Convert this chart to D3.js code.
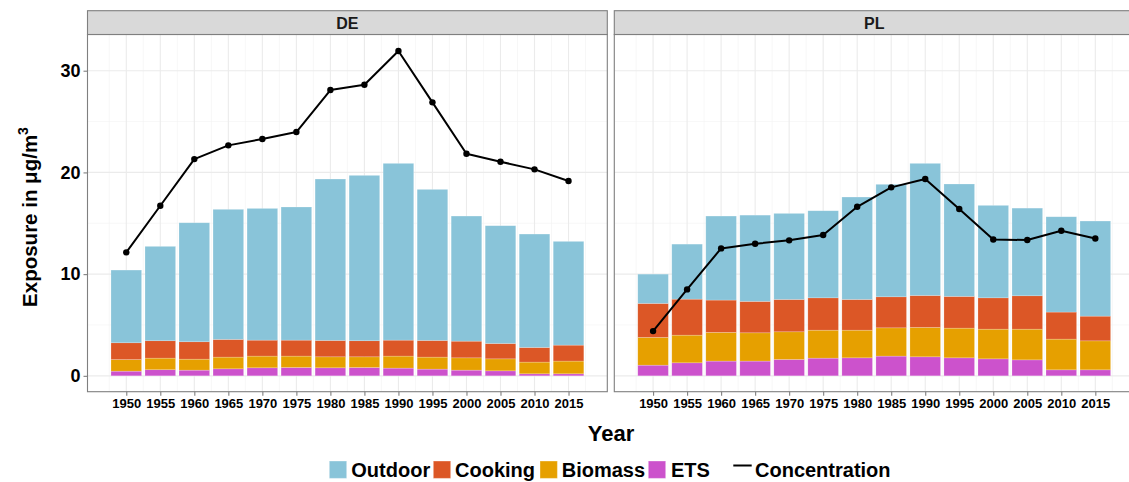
<!DOCTYPE html>
<html><head><meta charset="utf-8">
<script src="https://cdn.jsdelivr.net/npm/d3@7"></script>
<style>
body{margin:0;background:#fff;}
svg{display:block;font-family:"Liberation Sans",Arial,sans-serif;}
</style></head>
<body><svg id="c" width="1129" height="482"></svg>
<script>
const years = [1950,1955,1960,1965,1970,1975,1980,1985,1990,1995,2000,2005,2010,2015];
const facets = ["DE","PL"];
const seriesNames = ["Outdoor","Cooking","Biomass","ETS"];
const seriesColors = ["#89C4D9","#DC5726","#E6A000","#CC52CC"];
const yTicks = [0,10,20,30];

const outdoorDE = [7.15,9.28,11.70,12.79,12.95,13.09,15.87,16.26,17.38,14.85,12.30,11.58,11.15,10.20];
const cookingDE = [1.65,1.71,1.71,1.74,1.57,1.57,1.61,1.58,1.57,1.64,1.64,1.51,1.44,1.57];
const biomassDE = [1.14,1.14,1.08,1.15,1.15,1.12,1.08,1.05,1.18,1.18,1.21,1.18,1.15,1.25];
const etsDE     = [0.46,0.60,0.56,0.69,0.79,0.82,0.79,0.82,0.76,0.66,0.56,0.49,0.20,0.20];
const concDE    = [12.14,16.72,21.31,22.66,23.28,23.97,28.10,28.62,31.94,26.89,21.84,21.05,20.30,19.15];

const outdoorPL = [2.88,5.41,8.26,8.48,8.46,8.56,10.07,11.06,12.99,11.05,9.09,8.62,9.37,9.35];
const cookingPL = [3.34,3.54,3.18,3.09,3.18,3.18,3.02,3.05,3.14,3.12,3.08,3.28,2.66,2.43];
const biomassPL = [2.73,2.72,2.82,2.78,2.72,2.75,2.72,2.78,2.89,2.92,2.92,3.02,3.02,2.85];
const etsPL     = [1.05,1.28,1.45,1.45,1.61,1.74,1.77,1.94,1.87,1.77,1.67,1.57,0.59,0.59];
const concPL    = [4.40,8.50,12.53,12.98,13.32,13.84,16.62,18.53,19.35,16.40,13.41,13.35,14.26,13.51];

const facetData = {
  DE: {Outdoor: outdoorDE, Cooking: cookingDE, Biomass: biomassDE, ETS: etsDE, conc: concDE},
  PL: {Outdoor: outdoorPL, Cooking: cookingPL, Biomass: biomassPL, ETS: etsPL, conc: concPL}
};

const svg = d3.select("#c");
const panelW = 519.8, panelTop = 34.5, panelBottom = 391.7, stripTop = 10.7;
const panelLefts = [87.5, 614.3];
const y = d3.scaleLinear().domain([-1.56, 33.56]).range([panelBottom, panelTop]);
const color = d3.scaleOrdinal().domain(seriesNames).range(seriesColors);
const stackOrder = ["ETS","Biomass","Cooking","Outdoor"]; // bottom to top

facets.forEach((f, fi) => {
  const x0 = panelLefts[fi];
  const x = d3.scaleLinear().domain([1944.3, 2020.7]).range([x0, x0 + panelW]);
  const barW = (x(1954.5) - x(1950));
  const g = svg.append("g");
  g.append("rect").attr("x", x0).attr("y", panelTop).attr("width", panelW).attr("height", panelBottom - panelTop).attr("fill", "#fff");
  // minor grid
  const minorX = years.map(v => v - 2.5).concat([2017.5]);
  g.selectAll(".mx").data(minorX).enter().append("line")
    .attr("x1", d => x(d)).attr("x2", d => x(d)).attr("y1", panelTop).attr("y2", panelBottom)
    .attr("stroke", "#F2F2F2").attr("stroke-width", 0.6);
  g.selectAll(".my").data([5,15,25]).enter().append("line")
    .attr("x1", x0).attr("x2", x0 + panelW).attr("y1", d => y(d)).attr("y2", d => y(d))
    .attr("stroke", "#F2F2F2").attr("stroke-width", 0.6);
  // major grid
  g.selectAll(".gx").data(years).enter().append("line")
    .attr("x1", d => x(d)).attr("x2", d => x(d)).attr("y1", panelTop).attr("y2", panelBottom)
    .attr("stroke", "#EBEBEB").attr("stroke-width", 1.1);
  g.selectAll(".gy").data(yTicks).enter().append("line")
    .attr("x1", x0).attr("x2", x0 + panelW).attr("y1", d => y(d)).attr("y2", d => y(d))
    .attr("stroke", "#EBEBEB").attr("stroke-width", 1.1);

  // stacked bars
  const fd = facetData[f];
  const rows = years.map((yr, i) => {
    const r = {year: yr};
    seriesNames.forEach(s => r[s] = fd[s][i]);
    return r;
  });
  const stack = d3.stack().keys(stackOrder)(rows);
  stack.forEach(layer => {
    g.append("g").selectAll("rect").data(layer).enter().append("rect")
      .attr("x", d => x(d.data.year) - barW / 2)
      .attr("width", barW)
      .attr("y", d => y(d[1]))
      .attr("height", d => y(d[0]) - y(d[1]))
      .attr("fill", color(layer.key))
      .attr("stroke", "#ffffff").attr("stroke-opacity", 0.35).attr("stroke-width", 0.6);
  });

  // concentration line
  const line = d3.line().x((d, i) => x(years[i])).y(d => y(d));
  g.append("path").datum(fd.conc).attr("d", line).attr("fill", "none")
    .attr("stroke", "#000").attr("stroke-width", 2).attr("stroke-linejoin", "round");
  g.selectAll(".pt").data(fd.conc).enter().append("circle")
    .attr("cx", (d, i) => x(years[i])).attr("cy", d => y(d)).attr("r", 3.2).attr("fill", "#000");

  // panel border
  g.append("rect").attr("x", x0).attr("y", panelTop).attr("width", panelW).attr("height", panelBottom - panelTop)
    .attr("fill", "none").attr("stroke", "#7F7F7F").attr("stroke-width", 1.1);
  // strip
  g.append("rect").attr("x", x0).attr("y", stripTop).attr("width", panelW).attr("height", panelTop - stripTop)
    .attr("fill", "#D9D9D9").attr("stroke", "#7F7F7F").attr("stroke-width", 1.1);
  g.append("text").attr("x", x0 + panelW / 2).attr("y", 29.3)
    .attr("text-anchor", "middle").attr("font-weight", "bold").attr("font-size", 16).attr("fill", "#1A1A1A").text(f);

  // x axis
  const xAxis = d3.axisBottom(x).tickValues(years).tickFormat(d3.format("d")).tickSize(4).tickPadding(3);
  const ax = svg.append("g").attr("transform", `translate(0,${panelBottom})`).call(xAxis);
  ax.select(".domain").remove();
  ax.selectAll(".tick line").attr("stroke", "#7F7F7F").attr("stroke-width", 1.1);
  ax.selectAll(".tick text").attr("font-size", 13).attr("font-weight", "bold").attr("fill", "#000")
    .attr("font-family", "Liberation Sans, Arial, sans-serif");

  if (fi === 0) {
    const yAxis = d3.axisLeft(y).tickValues(yTicks).tickSize(4).tickPadding(3);
    const ay = svg.append("g").attr("transform", `translate(${x0},0)`).call(yAxis);
    ay.select(".domain").remove();
    ay.selectAll(".tick line").attr("stroke", "#7F7F7F").attr("stroke-width", 1.1);
    ay.selectAll(".tick text").attr("font-size", 18).attr("font-weight", "bold").attr("fill", "#000")
      .attr("font-family", "Liberation Sans, Arial, sans-serif");
  }
});

// axis titles
svg.append("text").attr("x", 611).attr("y", 441).attr("text-anchor", "middle")
  .attr("font-size", 22).attr("font-weight", "bold").text("Year");
const yt = svg.append("text").attr("transform", `translate(36.5,217) rotate(-90)`)
  .attr("text-anchor", "middle").attr("font-size", 20.5).attr("font-weight", "bold");
yt.append("tspan").text("Exposure in μg/m");
yt.append("tspan").attr("dy", -9).attr("font-size", 14).text("3");

// legend
const legendItems = [
  {name: "Outdoor", type: "box", x: 329.3, tx: 351.3},
  {name: "Cooking", type: "box", x: 433.3, tx: 455},
  {name: "Biomass", type: "box", x: 540, tx: 561.7},
  {name: "ETS", type: "box", x: 648.3, tx: 671},
  {name: "Concentration", type: "line", x: 733.3, tx: 755}
];
const lg = svg.append("g");
legendItems.forEach(it => {
  if (it.type === "box") {
    lg.append("rect").attr("x", it.x).attr("y", 461).attr("width", 17.4).attr("height", 17.4)
      .attr("fill", color(it.name)).attr("stroke", "#fff").attr("stroke-opacity", 0.35);
  } else {
    lg.append("line").attr("x1", it.x).attr("x2", it.x + 18.4).attr("y1", 465.5).attr("y2", 465.5)
      .attr("stroke", "#000").attr("stroke-width", 2);
  }
  lg.append("text").attr("x", it.tx).attr("y", 477).attr("font-size", 20).attr("font-weight", "bold").text(it.name);
});
</script>
</body></html>
